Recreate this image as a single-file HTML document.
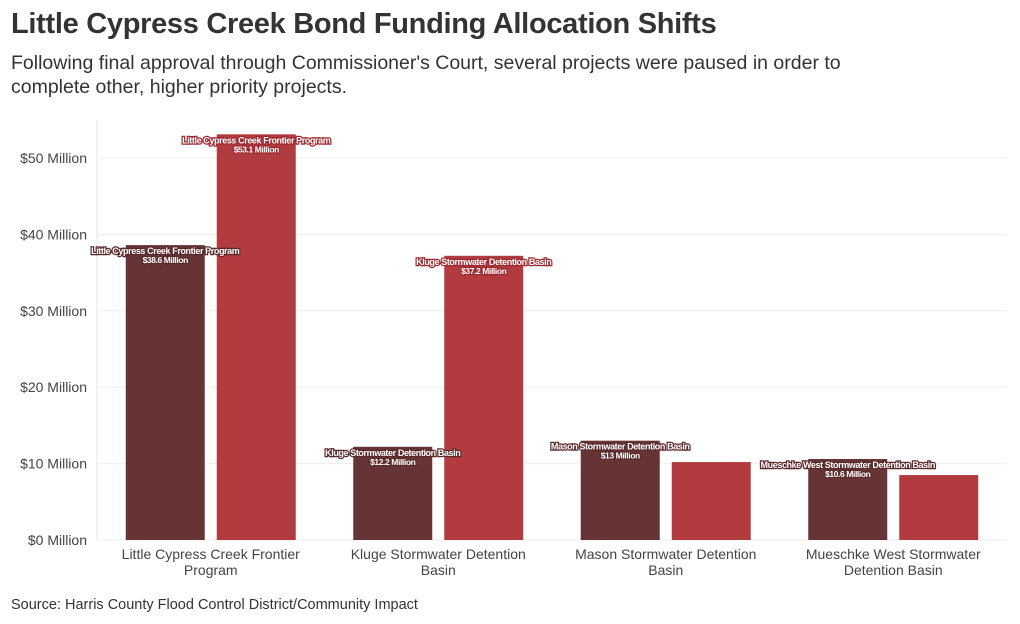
<!DOCTYPE html>
<html><head><meta charset="utf-8"><style>
body{margin:0;background:#fff;width:1020px;height:624px;overflow:hidden;font-family:"Liberation Sans",sans-serif;}
h1{position:absolute;left:11px;top:8px;margin:0;font-size:29px;font-weight:bold;color:#333;letter-spacing:-0.3px}
.sub{position:absolute;left:11px;top:51px;font-size:19.5px;color:#333;line-height:24px;width:910px}
.src{position:absolute;left:11px;top:597px;font-size:14.5px;color:#333}
svg{position:absolute;left:0;top:0}
</style></head><body>
<h1>Little Cypress Creek Bond Funding Allocation Shifts</h1>
<div class="sub">Following final approval through Commissioner's Court, several projects were paused in order to complete other, higher priority projects.</div>
<div class="src">Source: Harris County Flood Control District/Community Impact</div>
<svg id="chart" width="1020" height="624"></svg>
<script>
const categories=["Little Cypress Creek Frontier Program","Kluge Stormwater Detention Basin","Mason Stormwater Detention Basin","Mueschke West Stormwater Detention Basin"];
const catLines=[["Little Cypress Creek Frontier","Program"],["Kluge Stormwater Detention","Basin"],["Mason Stormwater Detention","Basin"],["Mueschke West Stormwater","Detention Basin"]];
const original=[38.6,12.2,13,10.6];
const revised=[53.1,37.2,10.2,8.5];
const originalLabels=["$38.6 Million","$12.2 Million","$13 Million","$10.6 Million"];
const revisedLabels=["$53.1 Million","$37.2 Million",null,null];
const ticks=[0,10,20,30,40,50];
const ns="http://www.w3.org/2000/svg",svg=document.getElementById('chart');
const y0=540,pxPer=7.64,left=97,right=1007;
const y=v=>y0-v*pxPer;
const band=(right-left)/categories.length;
const cx=i=>left+band*(i+0.5);
function mk(t,a,p){const e=document.createElementNS(ns,t);for(const k in a)e.setAttribute(k,a[k]);(p||svg).appendChild(e);return e;}
mk('line',{x1:left,x2:left,y1:120,y2:y0,stroke:'#e6e6e6'});
ticks.forEach(t=>{
 const l=mk('line',{x1:left,x2:right,y1:y(t),y2:y(t),stroke:'#eeeeee'});
 
 const tx=mk('text',{x:87,y:y(t)+5,'text-anchor':'end','font-size':14,fill:'#444'});
 tx.textContent='$'+t+' Million';
 
});
const bw=79,gap=12;
function label(x,top,l1,l2,fill,stroke){
 [[l1,top+9,9],[l2,top+18,8.5]].forEach(([s,yy,fs])=>{
  const t=mk('text',{x:x,y:yy,'text-anchor':'middle','font-size':fs,'font-weight':'bold',fill:'#fff',stroke:stroke,'stroke-width':2.5,'paint-order':'stroke','letter-spacing':'-0.4'});
  t.textContent=s;
 });
}
categories.forEach((c,i)=>{
 const x1=cx(i)-gap/2-bw,x2=cx(i)+gap/2;
 const b1=mk('rect',{x:x1,y:y(original[i]),width:bw,height:original[i]*pxPer,fill:'#663435'});
 
 const b2=mk('rect',{x:x2,y:y(revised[i]),width:bw,height:revised[i]*pxPer,fill:'#b13b3f'});
 
 label(x1+bw/2,y(original[i]),c,originalLabels[i],'#fff','#5a2a2b');
 if(revisedLabels[i])label(x2+bw/2,y(revised[i]),c,revisedLabels[i],'#fff','#9c2a30');
 catLines[i].forEach((s,k)=>{
  const t=mk('text',{x:cx(i),y:559+k*16,'text-anchor':'middle','font-size':14,fill:'#444'});
  t.textContent=s;
 });
});
</script>
</body></html>
